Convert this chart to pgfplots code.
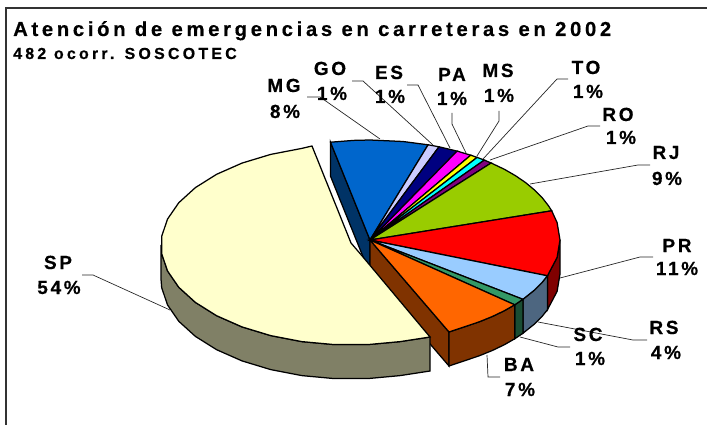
\documentclass[border=0pt]{standalone}
\usepackage{fontspec}
\usepackage{pgfplots}
\pgfplotsset{compat=1.18}
\setmainfont{Liberation Sans}
\newfontfamily\labf[LetterSpace=14,FakeBold=0.4]{Liberation Sans}
\newfontfamily\titf[LetterSpace=18,FakeBold=0.4]{Liberation Sans}
\newfontfamily\subf[LetterSpace=20,FakeBold=0.4]{Liberation Sans}
\definecolor{cCream}{HTML}{FFFFCC}
\definecolor{cCreamS}{HTML}{808066}
\definecolor{cMG}{HTML}{0066CC}
\definecolor{cMGS}{HTML}{003366}
\definecolor{cGO}{HTML}{CCCCFF}
\definecolor{cES}{HTML}{000080}
\definecolor{cPA}{HTML}{FF00FF}
\definecolor{cMS}{HTML}{FFFF00}
\definecolor{cTO}{HTML}{00FFFF}
\definecolor{cRO}{HTML}{800080}
\definecolor{cRJ}{HTML}{99CC00}
\definecolor{cPR}{HTML}{FF0000}
\definecolor{cPRS}{HTML}{800000}
\definecolor{cRS}{HTML}{99CCFF}
\definecolor{cRSS}{HTML}{4D6680}
\definecolor{cSC}{HTML}{339966}
\definecolor{cSCS}{HTML}{1A4D33}
\definecolor{cBA}{HTML}{FF6600}
\definecolor{cBAS}{HTML}{803300}
\newcommand{\lbl}[4]{%
  \node[anchor=base,inner sep=0pt,font=\labf\bfseries\fontsize{19}{19}\selectfont] at (axis cs:#1) {#2};
  \node[anchor=base,inner sep=0pt,font=\labf\bfseries\fontsize{19}{19}\selectfont] at (axis cs:#3) {#4};}
\begin{document}
\begin{tikzpicture}
\useasboundingbox (0,0) rectangle (707pt,425pt);
\begin{axis}[
  at={(0,0)},anchor=south west,
  width=707pt,height=425pt,scale only axis,
  xmin=0,xmax=707,ymin=0,ymax=425,y dir=reverse,
  hide axis,clip=true,
  every axis plot/.append style={mark=none,line width=1.25pt,draw=black},
  leader/.style={line width=0.7pt,draw=black!85},
]
% frame
\addplot[line width=1.5pt,draw=black!80] coordinates {(6,425) (6,8) (707,8)};
% walls and outer sides
\addplot[fill=cMGS] coordinates {(330.5,142.2) (370,240) (370,274) (330.5,176.2)} --cycle;
\addplot[fill=cBAS] coordinates {(370,240) (449,332) (449,366) (370,274)} --cycle;
\addplot[fill=cPRS] coordinates {(560,240) (557.1,257.4) (547.4,275.8) (547.4,309.8) (557.1,291.4) (560,274)} --cycle;
\addplot[fill=cRSS] coordinates {(547.4,275.8) (542.2,282.3) (534.5,290) (522.9,299.3) (522.9,333.3) (534.5,324) (542.2,316.3) (547.4,309.8)} --cycle;
\addplot[fill=cSCS] coordinates {(522.9,299.3) (514.7,304.8) (514.7,338.8) (522.9,333.3)} --cycle;
\addplot[fill=cBAS] coordinates {(514.7,304.8) (504.4,310.7) (492.1,316.6) (479,321.9) (465,326.6) (449,332) (449,366) (465,360.6) (479,355.9) (492.1,350.6) (504.4,344.7) (514.7,338.8)} --cycle;
% top sectors
\addplot[fill=cMG] coordinates {(370,240) (330.5,142.2) (353.4,140.4) (370,140) (403,141.5) (428.1,144.8)} --cycle;
\addplot[fill=cGO] coordinates {(370,240) (428.1,144.8) (439,146.8)} --cycle;
\addplot[fill=cES] coordinates {(370,240) (439,146.8) (457.1,151.1)} --cycle;
\addplot[fill=cPA] coordinates {(370,240) (457.1,151.1) (470.7,155.2)} --cycle;
\addplot[fill=cMS] coordinates {(370,240) (470.7,155.2) (477.1,157.4)} --cycle;
\addplot[fill=cTO] coordinates {(370,240) (477.1,157.4) (484.3,160.1)} --cycle;
\addplot[fill=cRO] coordinates {(370,240) (484.3,160.1) (491.1,163)} --cycle;
\addplot[fill=cRJ] coordinates {(370,240) (491.1,163) (504.4,169.3) (515.5,175.7) (525.6,182.6) (534.5,190) (542.2,197.7) (548.5,205.8) (551.7,210.8)} --cycle;
\addplot[fill=cPR] coordinates {(370,240) (551.7,210.8) (557.1,222.6) (560,240) (557.1,257.4) (547.4,275.8)} --cycle;
\addplot[fill=cRS] coordinates {(370,240) (547.4,275.8) (542.2,282.3) (534.5,290) (522.9,299.3)} --cycle;
\addplot[fill=cSC] coordinates {(370,240) (522.9,299.3) (514.7,304.8)} --cycle;
\addplot[fill=cBA] coordinates {(370,240) (514.7,304.8) (504.4,310.7) (492.1,316.6) (479,321.9) (465,326.6) (449,332)} --cycle;
% SP exploded slice
\addplot[fill=cCreamS] coordinates {(430,337) (400.2,341.6) (367.6,344.6) (334.4,344.6) (301.8,341.6) (270.7,335.6) (242,326.9) (216.6,315.7) (195.4,302.4) (178.8,287.3) (167.5,270.9) (161.7,253.7) (161,245)
 (161,279) (161.7,287.7) (167.5,304.9) (178.8,321.3) (195.4,336.4) (216.6,349.7) (242,360.9) (270.7,369.6) (301.8,375.6) (334.4,378.6) (367.6,378.6) (400.2,375.6) (430,371)} --cycle;
\addplot[fill=cCream] coordinates {(312,146) (351,243) (363,257) (430,337) (400.2,341.6) (367.6,344.6) (334.4,344.6) (301.8,341.6) (270.7,335.6) (242,326.9) (216.6,315.7) (195.4,302.4) (178.8,287.3) (167.5,270.9) (161.7,253.7) (161.7,236.3) (167.5,219.1) (178.8,202.7) (195.4,187.6) (216.6,174.3) (242,163.1) (270.7,154.4) (301.8,148.4)} --cycle;
% leader lines
\addplot[leader] coordinates {(307,97) (320,97) (380,139)};
\addplot[leader] coordinates {(352,81) (363,81) (433,145)};
\addplot[leader] coordinates {(407,85) (418,85) (450,148)};
\addplot[leader] coordinates {(452,113) (452,124) (466,153)};
\addplot[leader] coordinates {(499,111) (499,121) (477,156)};
\addplot[leader] coordinates {(568,79) (557,79) (483,159)};
\addplot[leader] coordinates {(600,126) (588,126) (490,160)};
\addplot[leader] coordinates {(650,165) (638,165) (530,184)};
\addplot[leader] coordinates {(653,257) (640,257) (560,278)};
\addplot[leader] coordinates {(647,340) (633,340) (538,322)};
\addplot[leader] coordinates {(570,347) (558,347) (520,337)};
\addplot[leader] coordinates {(500,377) (488,377) (487,355)};
\addplot[leader] coordinates {(82,275) (93,275) (170,310)};
% titles
\node[anchor=base west,inner sep=0pt,font=\titf\bfseries\fontsize{20.3}{20}\selectfont] at (axis cs:13,36) {Atención de emergencias en carreteras en 2002};
\node[anchor=base west,inner sep=0pt,font=\subf\bfseries\fontsize{16}{16}\selectfont] at (axis cs:13,59) {482 ocorr. SOSCOTEC};
% labels
\lbl{284,92}{MG}{285,118}{8\%}
\lbl{330,75}{GO}{332,100}{1\%}
\lbl{389,79}{ES}{390,103}{1\%}
\lbl{452,81}{PA}{452,105}{1\%}
\lbl{498,77}{MS}{499,102}{1\%}
\lbl{586,74}{TO}{588,98}{1\%}
\lbl{618,121}{RO}{621,144}{1\%}
\lbl{666,159}{RJ}{667,185}{9\%}
\lbl{677,252}{PR}{677,275}{11\%}
\lbl{664,334}{RS}{666,359}{4\%}
\lbl{588,341}{SC}{590,365}{1\%}
\lbl{519,371}{BA}{520,396}{7\%}
\lbl{58,269}{SP}{59,294}{54\%}
\end{axis}
\end{tikzpicture}
\end{document}
